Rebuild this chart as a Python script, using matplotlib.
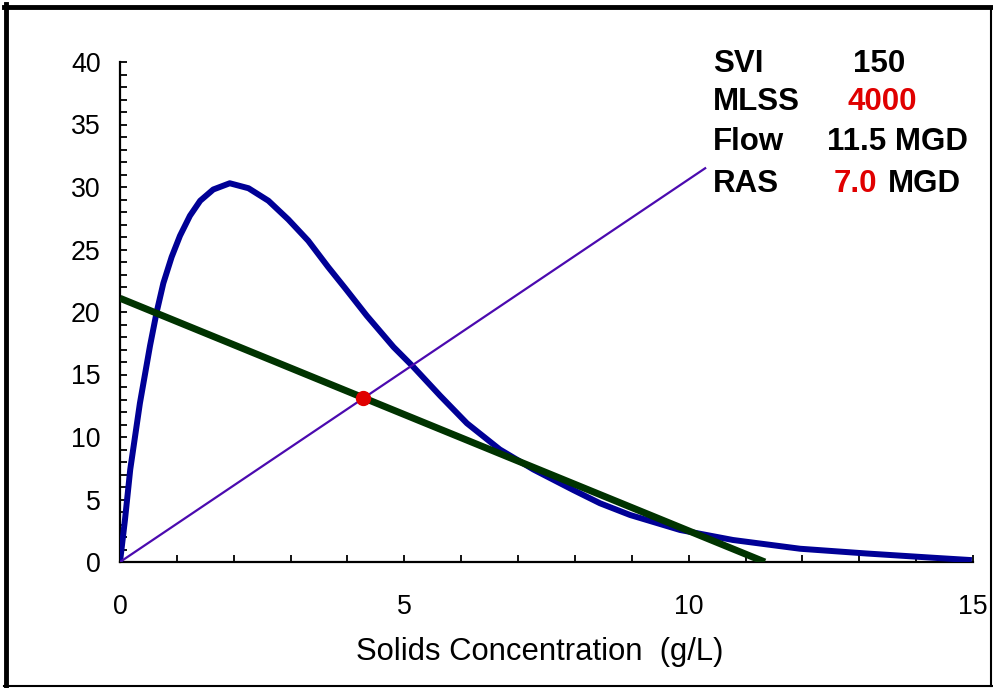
import matplotlib
matplotlib.use("Agg")
import matplotlib.pyplot as plt
from matplotlib.ticker import MultipleLocator
from matplotlib.lines import Line2D

plt.rcParams['font.family'] = ['Liberation Sans', 'DejaVu Sans']

# Solids flux curve (g/L vs flux)
flux_conc = [0.0, 0.088, 0.18, 0.35, 0.528, 0.645, 0.762, 0.908, 1.055, 1.23, 1.41, 1.64,
             1.93, 2.26, 2.61, 2.96, 3.31, 3.66, 3.96, 4.34, 4.81, 5.16, 5.63, 6.10, 6.68,
             7.27, 7.97, 8.44, 8.97, 9.85, 10.78, 11.96, 13.13, 14.3, 14.98]
flux_vals = [0.0, 3.4, 7.4, 12.7, 17.3, 20.0, 22.3, 24.4, 26.1, 27.7, 28.9, 29.8,
             30.3, 29.9, 28.9, 27.4, 25.7, 23.6, 21.9, 19.7, 17.2, 15.6, 13.3, 11.1, 9.0,
             7.4, 5.76, 4.7, 3.76, 2.56, 1.76, 1.06, 0.68, 0.34, 0.15]

# Overflow line
overflow_x = [0.0, 10.29]
overflow_y = [0.0, 31.5]

# State point (underflow) line
underflow_x = [0.0, 11.34]
underflow_y = [21.1, 0.0]

# State point
state_x = [4.27]
state_y = [13.1]

fig = plt.figure(figsize=(9.93, 6.88), dpi=100)
ax = fig.add_axes([120/993, 1-562/688, (973-120)/993, (562-62)/688])

ax.plot(flux_conc, flux_vals, color='#000096', lw=4.3, solid_capstyle='butt',
        solid_joinstyle='round', zorder=3)
ax.plot(overflow_x, overflow_y, color='#4B0AAF', lw=1.6, zorder=4)
ax.plot(underflow_x, underflow_y, color='#003300', lw=5.0, solid_capstyle='butt', zorder=5)
ax.plot(state_x, state_y, 'o', color='#E00000', markersize=10, zorder=6)

ax.set_xlim(0, 15)
ax.set_ylim(0, 40)
for s in ['top', 'right']:
    ax.spines[s].set_visible(False)
for s in ['left', 'bottom']:
    ax.spines[s].set_linewidth(1.6)
    ax.spines[s].set_color('black')

ax.xaxis.set_major_locator(MultipleLocator(5))
ax.xaxis.set_minor_locator(MultipleLocator(1))
ax.yaxis.set_major_locator(MultipleLocator(5))
ax.yaxis.set_minor_locator(MultipleLocator(1))
ax.tick_params(axis='both', which='both', direction='in', width=1.3, length=5, colors='black')
ax.tick_params(axis='x', which='major', pad=23, labelsize=19.3)
ax.tick_params(axis='y', which='major', pad=14, labelsize=19.3)
ax.patch.set_alpha(0)

fig.text(540/993, (688-660)/688, 'Solids Concentration  (g/L)', fontsize=22.3,
         ha='center', va='baseline')

# Info block
fs = 22.5
rows = [("SVI", 713, 72), ("MLSS", 713, 110), ("Flow", 713, 150), ("RAS", 713, 192)]
for label, x, y in rows:
    fig.text(x/993, (688-y)/688, label, fontsize=fs, fontweight='bold', ha='left', va='baseline')
fig.text(853/993, (688-72)/688, "150", fontsize=fs, fontweight='bold', ha='left', va='baseline')
fig.text(847/993, (688-110)/688, "4000", fontsize=fs, fontweight='bold', ha='left', va='baseline',
         color='#E00000')
fig.text(827/993, (688-150)/688, "11.5 MGD", fontsize=fs, fontweight='bold', ha='left', va='baseline')
fig.text(834/993, (688-192)/688, "7.0", fontsize=fs, fontweight='bold', ha='left', va='baseline',
         color='#E00000')
fig.text(888/993, (688-192)/688, "MGD", fontsize=fs, fontweight='bold', ha='left', va='baseline')

# Figure border
fig.add_artist(Line2D([6/993, 6/993], [2/688, 1-4/688], color='black', lw=3.5, transform=fig.transFigure))
fig.add_artist(Line2D([4/993, 1-2/993], [1-7/688, 1-7/688], color='black', lw=3.5, transform=fig.transFigure))
fig.add_artist(Line2D([4/993, 1-1/993], [2/688, 2/688], color='black', lw=1.5, transform=fig.transFigure))
fig.add_artist(Line2D([1-2/993, 1-2/993], [2/688, 1-7/688], color='black', lw=1.5, transform=fig.transFigure))

fig.savefig('out.png', dpi=100, facecolor='white')
